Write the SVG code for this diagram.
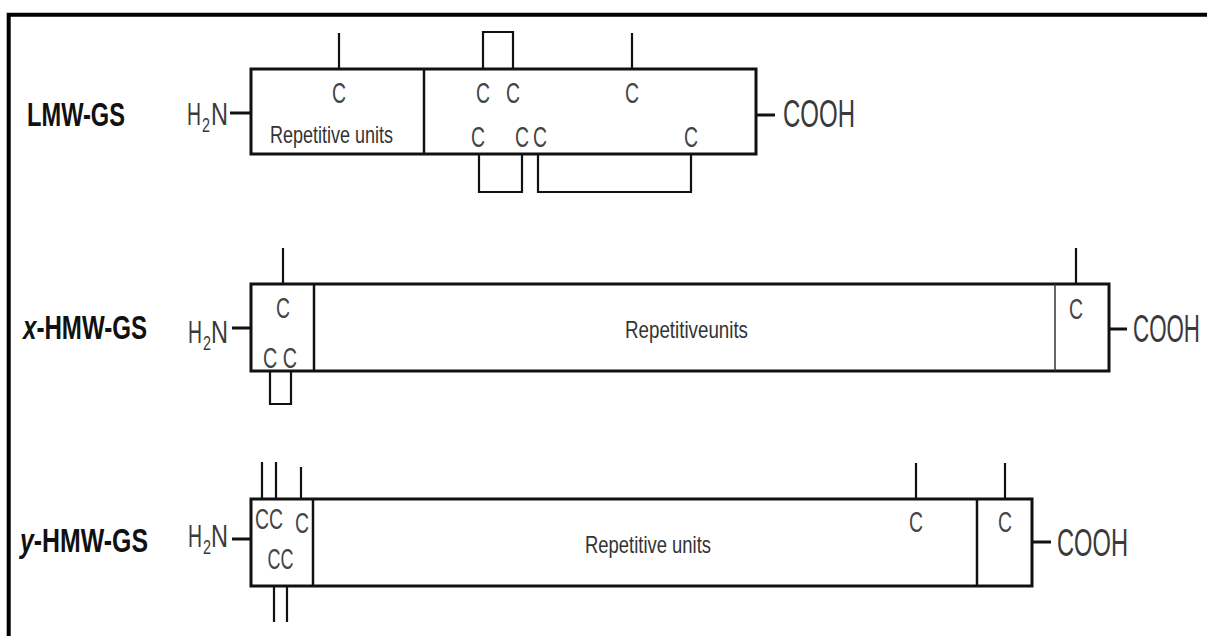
<svg xmlns="http://www.w3.org/2000/svg" width="1207" height="636" viewBox="0 0 1207 636">
<style>
.box{fill:#fff;stroke:#111;stroke-width:3}
.div{stroke:#111;stroke-width:2.5}
.thin{stroke:#333;stroke-width:1.5}
.lbl{font-family:"Liberation Sans",Arial,sans-serif;font-weight:bold;font-size:34px;fill:#111}
.term{font-family:"Liberation Sans",Arial,sans-serif;font-size:31px;fill:#3a3a3a}
.sub{font-family:"Liberation Sans",Arial,sans-serif;font-size:20px;fill:#3a3a3a}
.cooh{font-family:"Liberation Sans",Arial,sans-serif;font-size:38px;fill:#3a3a3a}
.c{font-family:"Liberation Sans",Arial,sans-serif;font-size:30px;fill:#444;text-anchor:middle}
.rep{font-family:"Liberation Sans",Arial,sans-serif;font-size:24px;fill:#333}
.dash{stroke:#111;stroke-width:3}
.tick{fill:none;stroke:#111;stroke-width:2.2}
</style>
<rect width="1207" height="636" fill="#fff"/>
<path d="M8.7,636 V14.7 H1207" fill="none" stroke="#000" stroke-width="4"/>

<g id="lmw">
  <text class="lbl" x="27" y="126" textLength="98" lengthAdjust="spacingAndGlyphs">LMW-GS</text>
  <text class="term" x="187" y="125" textLength="14" lengthAdjust="spacingAndGlyphs">H</text>
  <text class="sub" x="202" y="132" textLength="8" lengthAdjust="spacingAndGlyphs">2</text>
  <text class="term" x="211" y="125" textLength="17" lengthAdjust="spacingAndGlyphs">N</text>
  <line class="dash" x1="230" y1="113" x2="251" y2="113"/>
  <rect class="box" x="251" y="69" width="505" height="85"/>
  <line class="div" x1="424" y1="69" x2="424" y2="154"/>
  <text class="rep" x="270" y="143" textLength="123" lengthAdjust="spacingAndGlyphs">Repetitive units</text>
  <text class="c" x="339" y="103" textLength="14" lengthAdjust="spacingAndGlyphs">C</text>
  <text class="c" x="483" y="103" textLength="14" lengthAdjust="spacingAndGlyphs">C</text>
  <text class="c" x="513" y="103" textLength="14" lengthAdjust="spacingAndGlyphs">C</text>
  <text class="c" x="632" y="103" textLength="14" lengthAdjust="spacingAndGlyphs">C</text>
  <text class="c" x="478" y="147" textLength="14" lengthAdjust="spacingAndGlyphs">C</text>
  <text class="c" x="522" y="147" textLength="14" lengthAdjust="spacingAndGlyphs">C</text>
  <text class="c" x="540" y="147" textLength="14" lengthAdjust="spacingAndGlyphs">C</text>
  <text class="c" x="691" y="147" textLength="14" lengthAdjust="spacingAndGlyphs">C</text>
  <line class="dash" x1="756" y1="115" x2="775" y2="115"/>
  <text class="cooh" x="783" y="127" textLength="72" lengthAdjust="spacingAndGlyphs">COOH</text>
</g>

<g id="xhmw">
  <text class="lbl" x="23" y="339" textLength="124" lengthAdjust="spacingAndGlyphs"><tspan font-style="italic">x</tspan>-HMW-GS</text>
  <text class="term" x="188" y="343" textLength="14" lengthAdjust="spacingAndGlyphs">H</text>
  <text class="sub" x="203" y="350" textLength="8" lengthAdjust="spacingAndGlyphs">2</text>
  <text class="term" x="211" y="343" textLength="17" lengthAdjust="spacingAndGlyphs">N</text>
  <line class="dash" x1="232" y1="328" x2="251" y2="328"/>
  <rect class="box" x="251" y="284" width="858" height="87"/>
  <line class="div" x1="314" y1="284" x2="314" y2="371"/>
  <line class="thin" x1="1055" y1="284" x2="1055" y2="371"/>
  <text class="rep" x="625" y="338" textLength="123" lengthAdjust="spacingAndGlyphs">Repetitiveunits</text>
  <text class="c" x="283" y="318" textLength="14" lengthAdjust="spacingAndGlyphs">C</text>
  <text class="c" x="280" y="368" textLength="34" lengthAdjust="spacingAndGlyphs">C C</text>
  <text class="c" x="1076" y="319" textLength="14" lengthAdjust="spacingAndGlyphs">C</text>
  <line class="dash" x1="1109" y1="329" x2="1127" y2="329"/>
  <text class="cooh" x="1133" y="342" textLength="67" lengthAdjust="spacingAndGlyphs">COOH</text>
</g>

<g id="yhmw">
  <text class="lbl" x="20" y="552" textLength="128" lengthAdjust="spacingAndGlyphs"><tspan font-style="italic">y</tspan>-HMW-GS</text>
  <text class="term" x="188" y="547" textLength="14" lengthAdjust="spacingAndGlyphs">H</text>
  <text class="sub" x="203" y="554" textLength="8" lengthAdjust="spacingAndGlyphs">2</text>
  <text class="term" x="211" y="547" textLength="17" lengthAdjust="spacingAndGlyphs">N</text>
  <line class="dash" x1="232" y1="539" x2="251" y2="539"/>
  <rect class="box" x="251" y="499" width="781" height="87"/>
  <line class="div" x1="313" y1="499" x2="313" y2="586"/>
  <line class="div" x1="977" y1="499" x2="977" y2="586"/>
  <text class="rep" x="585" y="553" textLength="126" lengthAdjust="spacingAndGlyphs">Repetitive units</text>
  <text class="c" x="269" y="529" textLength="28" lengthAdjust="spacingAndGlyphs">CC</text>
  <text class="c" x="302" y="533" textLength="14" lengthAdjust="spacingAndGlyphs">C</text>
  <text class="c" x="280.5" y="569" textLength="26" lengthAdjust="spacingAndGlyphs">CC</text>
  <text class="c" x="916" y="532" textLength="14" lengthAdjust="spacingAndGlyphs">C</text>
  <text class="c" x="1005" y="532" textLength="14" lengthAdjust="spacingAndGlyphs">C</text>
  <line class="dash" x1="1032" y1="542" x2="1051" y2="542"/>
  <text class="cooh" x="1057" y="556" textLength="71" lengthAdjust="spacingAndGlyphs">COOH</text>
</g>

<g id="connectors">
  <line class="tick" x1="339" y1="33" x2="339" y2="69"/>
  <path class="tick" d="M483,69 V32 H513 V69"/>
  <line class="tick" x1="632" y1="33" x2="632" y2="69"/>
  <path class="tick" d="M479,154 V192 H522 V154"/>
  <path class="tick" d="M538,154 V192 H691 V154"/>
  <line class="tick" x1="283" y1="248" x2="283" y2="284"/>
  <path class="tick" d="M270,371 V404 H291 V371"/>
  <line class="tick" x1="1076" y1="248" x2="1076" y2="284"/>
  <line class="tick" x1="262" y1="462" x2="262" y2="499"/>
  <line class="tick" x1="276" y1="462" x2="276" y2="499"/>
  <line class="tick" x1="301" y1="467" x2="301" y2="499"/>
  <line class="tick" x1="274" y1="586" x2="274" y2="622"/>
  <line class="tick" x1="287" y1="586" x2="287" y2="622"/>
  <line class="tick" x1="916" y1="463" x2="916" y2="499"/>
  <line class="tick" x1="1005" y1="463" x2="1005" y2="499"/>
</g>
</svg>
